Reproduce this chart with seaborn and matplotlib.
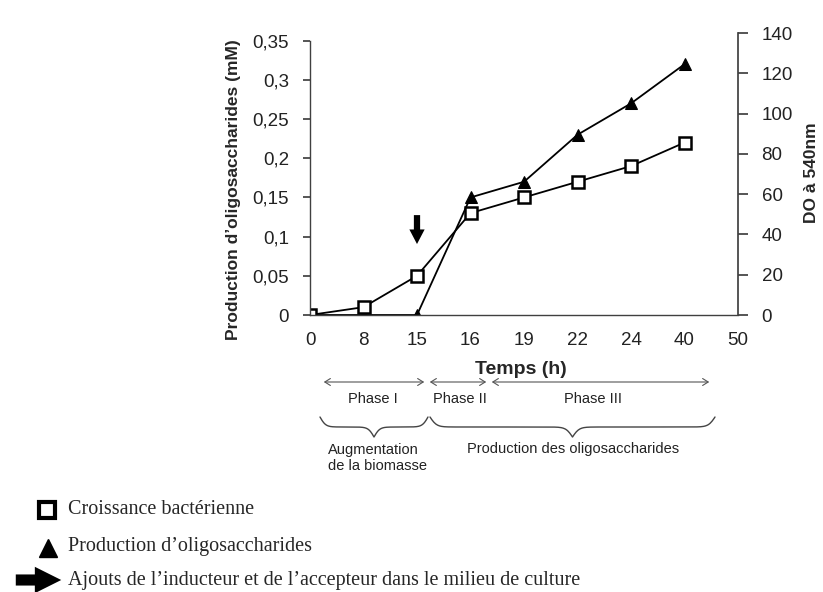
import numpy as np
import matplotlib
matplotlib.use("Agg")
import matplotlib.pyplot as plt
import seaborn as sns
from matplotlib.lines import Line2D
from matplotlib.patches import FancyArrowPatch
from matplotlib.ticker import FuncFormatter

# ---- data ----
time_labels = ['0', '8', '15', '16', '19', '22', '24', '40', '50']
croissance = [0, 0.01, 0.05, 0.13, 0.15, 0.17, 0.19, 0.22]
oligo = [0, 0, 0, 0.15, 0.17, 0.23, 0.27, 0.32]
left_ticks = [0, 0.05, 0.1, 0.15, 0.2, 0.25, 0.3, 0.35]
right_ticks = [0, 20, 40, 60, 80, 100, 120, 140]
phases = ['Phase I', 'Phase II', 'Phase III']

sns.set_theme(style='white')
plt.rcParams['font.family'] = ['Liberation Sans', 'DejaVu Sans']

W, H = 823, 592
fig = plt.figure(figsize=(W / 100, H / 100), dpi=100)

def fx(px):
    return px / W

def fy(py):
    return 1 - py / H

ax = fig.add_axes([fx(310), fy(315), (738 - 310) / W, (315 - 33) / H])
pos = np.arange(len(croissance))

sns.lineplot(x=pos, y=oligo, ax=ax, color='black', lw=1.3, marker='^',
             markersize=9, markerfacecolor='black', markeredgecolor='black')
sns.lineplot(x=pos, y=croissance, ax=ax, color='black', lw=1.3, marker='s',
             markersize=8, markerfacecolor='white', markeredgecolor='black',
             markeredgewidth=1.8)

spine_c = '#404040'
tick_fs = 13.5
ax.set_xlim(0, len(time_labels) - 1)
ax.set_ylim(0, 0.35 * 282 / 274.3)
ax.set_yticks(left_ticks)
ax.yaxis.set_major_formatter(FuncFormatter(lambda v, p: ('%g' % v).replace('.', ',')))
ax.set_xticks(range(len(time_labels)))
ax.set_xticklabels(time_labels)
ax.set_xticks([5], minor=True)
ax.tick_params(axis='x', which='major', length=0, pad=12, labelsize=tick_fs, colors='#222222')
ax.tick_params(axis='x', which='minor', bottom=True, length=5, direction='out', color=spine_c)
ax.tick_params(axis='y', left=True, length=5, direction='out', color=spine_c,
               labelsize=tick_fs, labelcolor='#222222', pad=10)
for s in ['top', 'right']:
    ax.spines[s].set_visible(False)
for s in ['left', 'bottom']:
    ax.spines[s].set_color(spine_c)
    ax.spines[s].set_linewidth(1.0)
ax.spines['left'].set_bounds(0, 0.35)
ax.set_ylabel("Production d\u2019oligosaccharides (mM)", fontsize=12.5, fontweight='bold')
ax.yaxis.set_label_coords((241 - 310) / 428, (315 - 190) / 282)
ax.set_xlabel('')
ax.grid(False)

ax2 = ax.twinx()
ax2.set_ylim(0, 140)
ax2.set_yticks(right_ticks)
for s in ['top', 'left', 'bottom']:
    ax2.spines[s].set_visible(False)
ax2.spines['right'].set_color(spine_c)
ax2.tick_params(axis='y', right=True, length=7, direction='out', color=spine_c,
                labelsize=tick_fs, labelcolor='#222222', pad=10)
ax2.set_ylabel('DO \u00e0 540nm', fontsize=12.5, fontweight='bold')
ax2.yaxis.set_label_coords((804 - 310) / 428, (315 - 173) / 282)
ax2.grid(False)

# arrow marking inducer addition at 15 h
ax.annotate('', xy=(2, 0.087), xytext=(2, 0.131),
            arrowprops=dict(arrowstyle='simple,head_length=1.05,head_width=1.1,tail_width=0.45',
                            color='black', lw=0, mutation_scale=10))

# x label
fig.text(fx(521), fy(369), 'Temps (h)', ha='center', va='center', fontsize=14, fontweight='bold')

# phase arrows
bounds = [321, 427, 489, 712]
for i, name in enumerate(phases):
    a = FancyArrowPatch((fx(bounds[i]), fy(382)), (fx(bounds[i + 1]), fy(382)),
                        transform=fig.transFigure, arrowstyle='<->,head_length=4,head_width=2.5',
                        color='#555555', lw=0.8, mutation_scale=1)
    fig.add_artist(a)
phase_x = [373, 460, 593]
for name, x in zip(phases, phase_x):
    fig.text(fx(x), fy(399), name, ha='center', va='center', fontsize=10.5, color='#222222')

# braces
def brace(x0, x1, ytop, ytip, beta=0.35):
    n = 301
    xs = np.linspace(x0, x1, n)
    half = xs[: n // 2 + 1]
    yh = 1 / (1 + np.exp(-beta * (half - half[0]))) + 1 / (1 + np.exp(-beta * (half - half[-1])))
    ys = np.concatenate((yh, yh[-2::-1]))
    ys = ytop + (ys - ys.min()) / (ys.max() - ys.min()) * (ytip - ytop)
    fig.add_artist(Line2D([fx(v) for v in xs], [fy(v) for v in ys],
                          transform=fig.transFigure, color='#444444', lw=1.0))

brace(320, 428, 417, 437)
brace(430, 715, 417, 437, beta=0.3)

fig.text(fx(328), fy(458), 'Augmentation\nde la biomasse', ha='left', va='center',
         fontsize=10.5, color='#222222', linespacing=1.2)
fig.text(fx(573), fy(449), 'Production des oligosaccharides', ha='center', va='center',
         fontsize=10.5, color='#222222')

# legend
serif = ['Liberation Serif', 'DejaVu Serif']
leg_fs = 14.5
fig.add_artist(Line2D([fx(46.5)], [fy(510)], transform=fig.transFigure, marker='s', markersize=11,
                      markerfacecolor='white', markeredgecolor='black', markeredgewidth=3, ls=''))
fig.text(fx(68), fy(510), 'Croissance bact\u00e9rienne', family=serif, fontsize=leg_fs, va='center')
fig.add_artist(Line2D([fx(48)], [fy(548)], transform=fig.transFigure, marker='^', markersize=13,
                      markerfacecolor='black', markeredgecolor='black', ls=''))
fig.text(fx(68), fy(547), 'Production d\u2019oligosaccharides', family=serif, fontsize=leg_fs, va='center')
fig.add_artist(FancyArrowPatch((fx(13), fy(580)), (fx(64), fy(580)), transform=fig.transFigure,
                               arrowstyle='simple,head_length=19,head_width=19,tail_width=8',
                               mutation_scale=1, color='black', lw=0))
fig.text(fx(68), fy(581), 'Ajouts de l\u2019inducteur et de l\u2019accepteur dans le milieu de culture',
         family=serif, fontsize=leg_fs, va='center')

fig.savefig('out.png', dpi=100)
